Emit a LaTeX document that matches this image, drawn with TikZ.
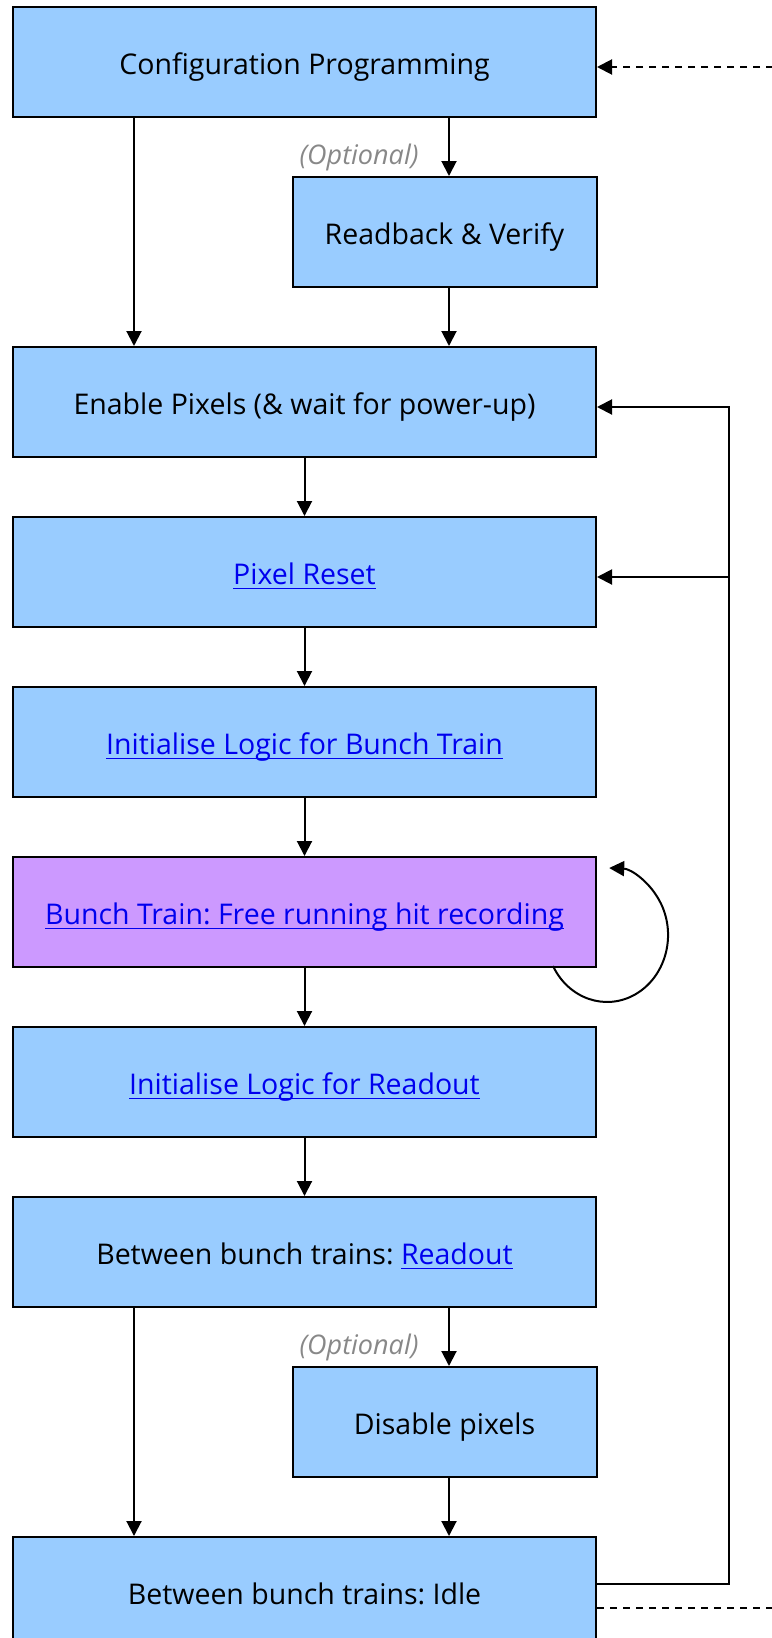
\documentclass[tikz,border=0pt]{standalone}
\usepackage{fontspec}
\setmainfont{Open Sans}
\usetikzlibrary{arrows.meta,calc}
\frenchspacing
\definecolor{boxblue}{HTML}{99CCFF}
\definecolor{boxpurple}{HTML}{CC99FF}
\definecolor{linkblue}{HTML}{0000EE}
\definecolor{optgray}{HTML}{888888}
\newcommand\lnk[1]{{\color{linkblue}\setbox0\hbox{#1}\rlap{\rule[-4.5pt]{\wd0}{1.5pt}}\box0}}
\begin{document}
\begin{tikzpicture}[x=1pt,y=-1pt,
  stbox/.style={draw=black,line width=2pt,fill=boxblue,minimum height=110pt,inner sep=0pt,
    font=\fontsize{28.5}{34}\selectfont,text height=28pt,text depth=3pt,anchor=north west},
  conn/.style={line width=2pt,-{Triangle[length=15pt,width=15pt]}},
  dconn/.style={conn,dash pattern=on 7pt off 6pt},
  opt/.style={font=\fontsize{27}{31}\selectfont\itshape,text=optgray,inner sep=0pt}]
\useasboundingbox (0,0) rectangle (771,1638);
\coordinate (colL) at (134,0);
\coordinate (colR) at (449,0);
\coordinate (colF) at (729,0);
\node[stbox,minimum width=583pt] (cfg) at (12,6) {Configuration Programming};
\node[stbox,minimum width=304pt] (rb) at (291.5,176) {Readback \& Verify};
\node[stbox,minimum width=583pt] (en) at (12,346) {Enable Pixels (\& wait for power-up)};
\node[stbox,minimum width=583pt] (pr) at (12,516) {\lnk{Pixel Reset}};
\node[stbox,minimum width=583pt] (ibt) at (12,686) {\lnk{Initialise Logic for Bunch Train}};
\node[stbox,minimum width=583pt,fill=boxpurple] (bt) at (12,856) {\lnk{Bunch Train: Free running hit recording}};
\node[stbox,minimum width=583pt] (iro) at (12,1026) {\lnk{Initialise Logic for Readout}};
\node[stbox,minimum width=583pt] (bro) at (12,1196) {Between bunch trains: \lnk{Readout}};
\node[stbox,minimum width=304pt] (dis) at (291.5,1366) {Disable pixels};
\node[stbox,minimum width=583pt] (idle) at (12,1536) {Between bunch trains: Idle};
\node[opt] (o1) at (359,157) {(Optional)};
\node[opt] (o2) at (359,1347) {(Optional)};
% top area
\draw[conn] (cfg.south -| colR) -- (rb.north -| colR);
\draw[conn] (cfg.south -| colL) -- (en.north -| colL);
\draw[conn] (rb.south -| colR) -- (en.north -| colR);
\draw[conn] (en) -- (pr);
\draw[conn] (pr) -- (ibt);
\draw[conn] (ibt) -- (bt);
\draw[conn] (bt) -- (iro);
\draw[conn] (iro) -- (bro);
\draw[conn] (bro.south -| colR) -- (dis.north -| colR);
\draw[conn] (bro.south -| colL) -- (idle.north -| colL);
\draw[conn] (dis.south -| colR) -- (idle.north -| colR);
% feedback loop
\coordinate (fbI) at ($(idle.north east)+(0,48)$);
\coordinate (fbE) at ($(en.north east)+(0,61)$);
\coordinate (fbP) at ($(pr.north east)+(0,61)$);
\draw[line width=2pt] (fbI) -| (colF |- fbE) -- ($(fbE)+(2,0)$);
\draw[conn] (colF |- fbE) -- (fbE);
\draw[conn] (colF |- fbP) -- (fbP);
% dashed external
\coordinate (extT) at (773,67);
\coordinate (cfgR) at ($(cfg.north east)+(0,61)$);
\draw[dconn] (extT) -- (cfgR);
\coordinate (idleR) at ($(idle.north east)+(0,72)$);
\coordinate (extB) at (773,1608);
\draw[line width=2pt,dash pattern=on 7pt off 6pt] (idleR) -- (extB);
% self loop
\coordinate (lpS) at (553,966);
\draw[conn] (lpS) arc[start angle=-152.4,end angle=88,x radius=61pt,y radius=67pt];
\end{tikzpicture}
\end{document}
